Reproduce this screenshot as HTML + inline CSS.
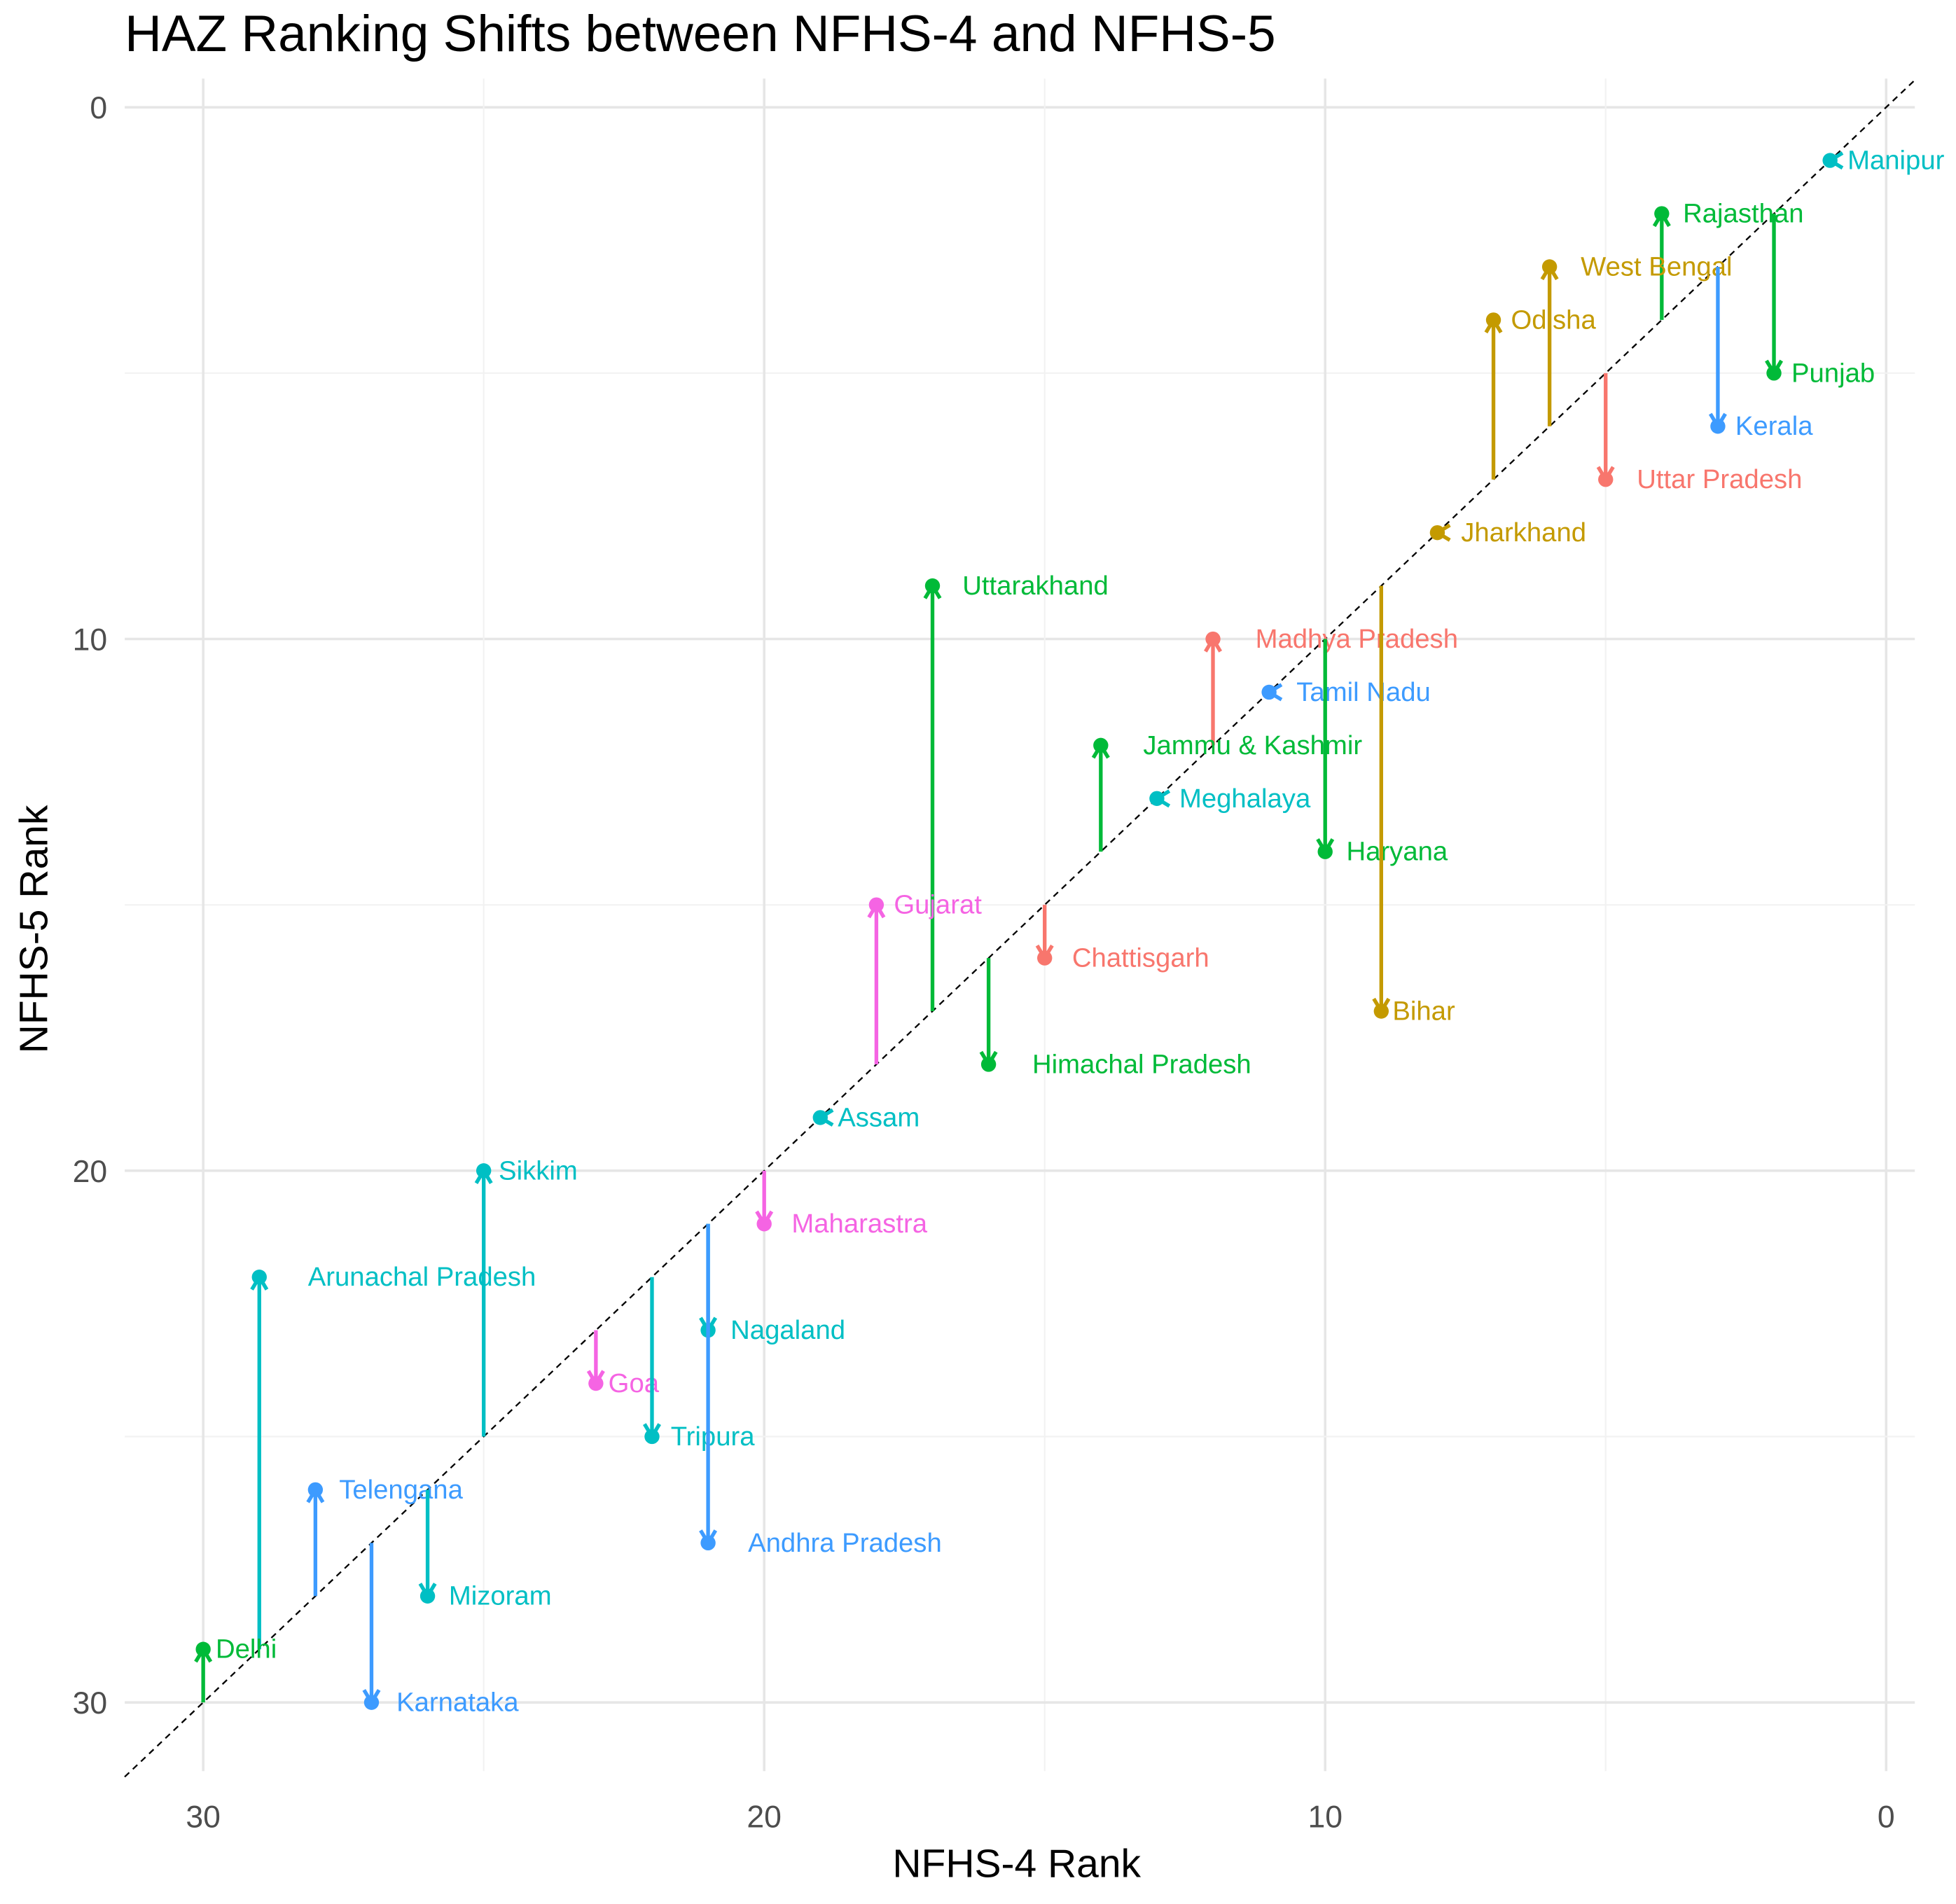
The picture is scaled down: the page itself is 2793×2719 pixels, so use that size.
<!DOCTYPE html>
<html><head><meta charset="utf-8"><style>
html,body{margin:0;padding:0;background:#fff;}
svg{display:block;font-family:"Liberation Sans",Arial,sans-serif;}
</style></head><body>
<svg id="chart" width="2793" height="2719" viewBox="0 0 1568 1526.5" preserveAspectRatio="none" xmlns="http://www.w3.org/2000/svg">
<rect width="1568" height="1527" fill="#fff"/>
<g id="grid"></g>
<g id="marks"></g>
<g id="axes"></g>
<text x="100" y="41" font-size="41" fill="#000">HAZ Ranking Shifts between NFHS-4 and NFHS-5</text>
<text x="815" y="1505" font-size="32" text-anchor="middle" fill="#000">NFHS-4 Rank</text>
<text x="0" y="0" font-size="32" text-anchor="middle" fill="#000" transform="translate(38,745) rotate(-90)">NFHS-5 Rank</text>
</svg>
<script>
const states = ["Manipur","Rajasthan","West Bengal","Punjab","Kerala","Odisha","Uttar Pradesh","Jharkhand","Uttarakhand","Madhya Pradesh","Tamil Nadu","Jammu & Kashmir","Meghalaya","Haryana","Gujarat","Chattisgarh","Bihar","Himachal Pradesh","Assam","Sikkim","Maharastra","Arunachal Pradesh","Nagaland","Goa","Tripura","Telengana","Andhra Pradesh","Mizoram","Delhi","Karnataka"];
const rank4 = [1,4,6,2,3,7,5,8,17,12,11,14,13,10,18,15,9,16,19,25,20,29,21,23,22,28,21,26,30,27];
const rank5 = [1,2,3,5,6,4,7,8,9,10,11,12,13,14,15,16,17,18,19,20,21,22,23,24,25,26,27,28,29,30];
const region = ["ne","n","e","n","s","e","c","e","n","c","s","n","ne","n","w","c","e","n","ne","ne","w","ne","ne","w","ne","s","s","ne","n","s"];
const xTicks = [30,20,10,0];
const yTicks = [0,10,20,30];
const colors = {c:"#F8766D", e:"#C49A00", n:"#00BA38", ne:"#00BFC4", s:"#3D9BFF", w:"#F564E3"};
const labelDx = [14,17,25,14,14,14,25,19,24,34,22,34,18,17,14,22,9,35,14,12,22,39,18,10,15,19,32,17,10,20];

const NS="http://www.w3.org/2000/svg";
const X = r => 1512 - 44.97*r;
const Y = r => 86 + 42.63*r;
function el(tag, attrs, parent){const e=document.createElementNS(NS,tag);for(const k in attrs)e.setAttribute(k,attrs[k]);parent.appendChild(e);return e;}
const grid=document.getElementById('grid'), marks=document.getElementById('marks'), axes=document.getElementById('axes');
const L=100,R=1535,T=63,B=1420;
for(let r=0;r<=30;r+=5){
  const major=r%10===0;
  let g=el('line',{x1:X(r),x2:X(r),y1:T,y2:B,stroke:major?'#e6e6e6':'#f2f2f2','stroke-width':major?2:1.2},grid);
  
  
  let h=el('line',{x1:L,x2:R,y1:Y(r),y2:Y(r),stroke:major?'#e6e6e6':'#f2f2f2','stroke-width':major?2:1.2},grid);
  
  
}
xTicks.forEach(t=>{
  const tx=el('text',{x:X(t),y:1465,'font-size':25,'text-anchor':'middle',fill:'#4d4d4d'},axes);
  tx.textContent=t;
  
  
});
yTicks.forEach(t=>{
  const ty=el('text',{x:86,y:Y(t)+9,'font-size':25,'text-anchor':'end',fill:'#4d4d4d'},axes);
  ty.textContent=t;
  
  
});
const diag=el('line',{x1:X(31.4),y1:Y(31.4),x2:X(-0.5),y2:Y(-0.5),stroke:'#000','stroke-width':1.3,'stroke-dasharray':'5,4'},marks);


states.forEach((s,i)=>{
  const c=colors[region[i]];
  const x=X(rank4[i]), y0=Y(rank4[i]), y1=Y(rank5[i]);
  const g=el('g',{},marks);
  
  
  el('line',{x1:x,x2:x,y1:y0,y2:y1,stroke:c,'stroke-width':3},g);
  const dir = y1<y0?-1:(y1>y0?1:0);
  if(dir!==0){
    el('polyline',{points:`${x-6},${y1-dir*10} ${x},${y1} ${x+6},${y1-dir*10}`,fill:'none',stroke:c,'stroke-width':3},g);
  } else {
    el('polyline',{points:`${x+10},${y1-6} ${x},${y1} ${x+10},${y1+6}`,fill:'none',stroke:c,'stroke-width':3},g);
  }
  el('circle',{cx:x,cy:y1,r:6,fill:c},g);
  const t=el('text',{x:x+labelDx[i],y:y1+7,'font-size':21.5,fill:c},g);
  t.textContent=s;
});
</script>
</body></html>
